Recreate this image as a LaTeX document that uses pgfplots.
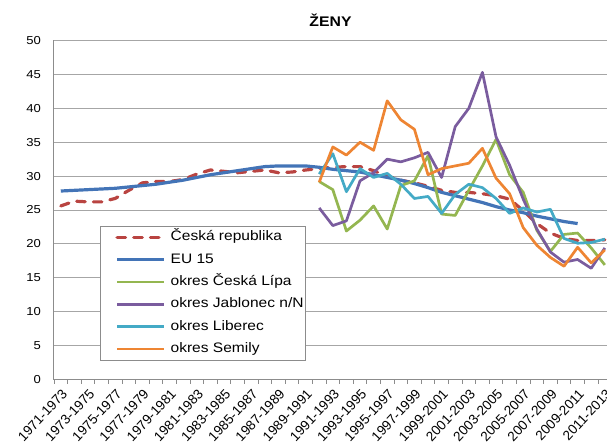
\documentclass[border=0pt]{standalone}
\usepackage{fontspec}
\setmainfont{Liberation Sans}[FakeStretch=1.13]
\newfontfamily\plainsans{Liberation Sans}
\usepackage{pgfplots}
\pgfplotsset{compat=1.18}
\definecolor{ccr}{HTML}{B94441}
\definecolor{ceu}{HTML}{4374B7}
\definecolor{cgreen}{HTML}{94B650}
\definecolor{cjab}{HTML}{7A5C9E}
\definecolor{clib}{HTML}{44AAC6}
\definecolor{csem}{HTML}{EE8533}
\definecolor{gridgray}{HTML}{A6A6A6}
\definecolor{axisgray}{HTML}{8C8C8C}

\begin{document}
\begin{tikzpicture}
\begin{axis}[
  scale only axis, width=553bp, height=339bp,
  xmin=-0.5, xmax=40.16, ymin=0, ymax=50,
  axis x line*=bottom, axis y line*=left,
  axis line style={draw=axisgray, line width=1bp},
  ytick={0,5,...,50}, ymajorgrids, grid style={gridgray, line width=0.9bp},
  major tick length=0pt, minor tick length=4bp, tick align=outside,
  xtick={0,2,...,40},
  xticklabels={1971-1973,1973-1975,1975-1977,1977-1979,1979-1981,1981-1983,1983-1985,1985-1987,1987-1989,1989-1991,1991-1993,1993-1995,1995-1997,1997-1999,1999-2001,2001-2003,2003-2005,2005-2007,2007-2009,2009-2011,2011-2013},
  minor xtick={-0.5,0.5,...,39.5},
  minor x tick style={draw=axisgray, line width=0.9bp},
  minor y tick style={draw=none},
  y tick label style={font=\fontsize{11.6}{13}\selectfont, xshift=-9.5bp},
  x tick label style={font=\plainsans\fontsize{13.6}{15}\selectfont, rotate=47, anchor=north east, inner sep=1bp, yshift=-5bp, xshift=-5bp},
  /pgf/number format/assume math mode=true,
  title={ŽENY},
  title style={font=\bfseries\fontsize{14}{16}\selectfont, at={(0.5,1)}, anchor=center, yshift=14bp},
  legend style={at={(0.0832,0.453)}, anchor=north west, draw=axisgray, line width=0.9bp, fill=white,
    font=\fontsize{13.8}{15}\selectfont, inner xsep=2bp, inner ysep=5bp, row sep=10bp,
    nodes={inner sep=0pt, text height=9.5bp, text depth=2.8bp},
    /tikz/every odd column/.append style={column sep=5bp}},
  legend cell align=left,
  legend image code/.code={\path (-13bp,0bp); \draw[#1] (0bp,0bp) -- (47bp,0bp);},
]
\addplot[ccr, line width=3.2bp, line cap=round, dash pattern=on 8.5bp off 8.2bp] coordinates {
(0,25.6) (1,26.3) (2,26.2) (3,26.2) (4,26.7) (5,27.9) (6,29.0) (7,29.2) (8,29.2) (9,29.5)
(10,30.3) (11,30.9) (12,30.7) (13,30.5) (14,30.7) (15,30.9) (16,30.5) (17,30.6) (18,30.9) (19,31.1)
(20,31.3) (21,31.4) (22,31.4) (23,30.8) (24,30.0) (25,29.4) (26,29.0) (27,28.5) (28,27.9) (29,27.6)
(30,27.6) (31,27.4) (32,27.1) (33,26.6) (34,24.9) (35,23.0) (36,21.6) (37,20.8) (38,20.5) (39,20.5) (40,20.6)};
\addlegendentry{Česká republika}
\addplot[ceu, line width=3.2bp, line join=round] coordinates {
(0,27.8) (1,27.9) (2,28.0) (3,28.1) (4,28.2) (5,28.4) (6,28.6) (7,28.8) (8,29.1) (9,29.4)
(10,29.8) (11,30.2) (12,30.5) (13,30.8) (14,31.1) (15,31.4) (16,31.5) (17,31.5) (18,31.5) (19,31.3)
(20,31.0) (21,30.8) (22,30.6) (23,30.2) (24,29.8) (25,29.4) (26,28.9) (27,28.3) (28,27.6) (29,27.1)
(30,26.6) (31,26.1) (32,25.5) (33,25.0) (34,24.6) (35,24.1) (36,23.7) (37,23.3) (38,23.0)};
\addlegendentry{EU 15}
\addplot[cgreen, line width=2.7bp, line join=round] coordinates {
(19,29.2) (20,28.0) (21,21.9) (22,23.5) (23,25.6) (24,22.2) (25,28.6) (26,29.3) (27,33.0) (28,24.4)
(29,24.2) (30,27.9) (31,31.5) (32,35.4) (33,30.2) (34,27.6) (35,22.0) (36,18.9) (37,21.4) (38,21.6)
(39,19.4) (40,16.9)};
\addlegendentry{okres Česká Lípa}
\addplot[cjab, line width=2.7bp, line join=round] coordinates {
(19,25.3) (20,22.7) (21,23.4) (22,29.3) (23,30.5) (24,32.5) (25,32.1) (26,32.7) (27,33.5) (28,29.8)
(29,37.3) (30,40.0) (31,45.3) (32,35.8) (33,31.6) (34,26.6) (35,22.2) (36,18.8) (37,17.3) (38,17.7)
(39,16.4) (40,19.4)};
\addlegendentry{okres Jablonec n/N}
\addplot[clib, line width=2.7bp, line join=round] coordinates {
(19,30.3) (20,33.3) (21,27.7) (22,31.1) (23,29.8) (24,30.4) (25,28.8) (26,26.7) (27,27.0) (28,24.5)
(29,27.3) (30,28.8) (31,28.3) (32,26.7) (33,24.5) (34,25.3) (35,24.7) (36,25.1) (37,20.8) (38,20.1)
(39,20.2) (40,20.7)};
\addlegendentry{okres Liberec}
\addplot[csem, line width=2.7bp, line join=round] coordinates {
(19,29.1) (20,34.3) (21,33.1) (22,35.0) (23,33.8) (24,41.1) (25,38.3) (26,36.9) (27,30.2) (28,31.1)
(29,31.5) (30,31.9) (31,34.1) (32,29.7) (33,27.4) (34,22.4) (35,19.8) (36,18.0) (37,16.7) (38,19.5)
(39,17.2) (40,19.1)};
\addlegendentry{okres Semily}
\end{axis}
\pgfresetboundingbox
\path[use as bounding box] (-54bp,-66.5bp) rectangle (553bp,379.5bp);
\end{tikzpicture}
\end{document}
